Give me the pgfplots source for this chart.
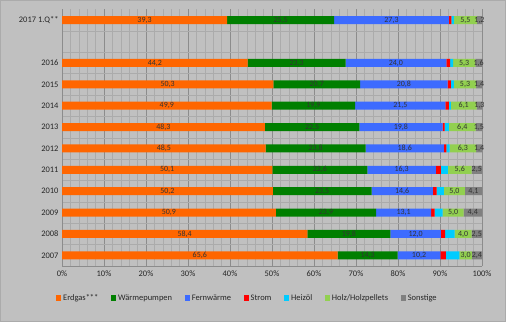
\documentclass[border=0pt]{standalone}
\usepackage{pgfplots}
\usepackage{pgfplotstable}
\pgfplotsset{compat=1.18}
\usepackage{fontspec}
\setmainfont{Carlito}
\definecolor{bg}{HTML}{C0C0C0}
\definecolor{cgas}{HTML}{FF6600}
\definecolor{cwp}{HTML}{007F00}
\definecolor{cfw}{HTML}{3D6BFF}
\definecolor{cstrom}{HTML}{FF0000}
\definecolor{coel}{HTML}{00CCFF}
\definecolor{cholz}{HTML}{92D050}
\definecolor{csonst}{HTML}{808080}
\definecolor{gmaj}{HTML}{8C8C8C}
\definecolor{gmin}{HTML}{ABABAB}
\pgfplotstableread{
y  gas  wp   fw   strom oel  holz  sonst
0  65.6 14.3 10.2 1.3   3.2  3.0   2.4
1  58.4 19.8 12.0 1.0   2.3  4.0   2.5
2  50.9 23.9 13.1 0.8   1.9  5.0   4.4
3  50.2 23.5 14.6 0.9   1.7  5.0   4.1
4  50.1 22.6 16.3 1.2   1.7  5.6   2.5
5  48.5 23.8 18.6 0.6   0.8  6.3   1.4
6  48.3 22.5 19.8 0.5   1.0  6.4   1.5
7  49.9 19.9 21.5 0.8   0.5  6.1   1.3
8  50.3 20.7 20.8 0.8   0.7  5.3   1.4
9  44.2 23.3 24.0 0.9   0.7  5.3   1.6
11 39.3 25.5 27.3 0.6   0.6  5.5   1.2
}\data
\pgfplotsset{
  common/.style={at={(62bp,56bp)}, anchor=south west,
    width=420bp, height=256.5bp, scale only axis,
    xmin=0, xmax=100, ymin=-0.5, ymax=11.5},
}
\begin{document}
\begin{tikzpicture}[x=1bp,y=1bp]
\fill[bg] (0,0) rectangle (506,322);
\draw[gmin,line width=0.8bp] (0.4,0.4) rectangle (505.6,321.6);
\begin{axis}[
  common,
  xbar stacked, bar width=8bp,
  ytick={0,1,2,3,4,5,6,7,8,9,11},
  yticklabels={2007,2008,2009,2010,2011,2012,2013,2014,2015,2016,2017 1.Q**},
  xtick={0,10,...,100},
  xticklabels={0\%,10\%,20\%,30\%,40\%,50\%,60\%,70\%,80\%,90\%,100\%},
  minor x tick num=4,
  minor ytick={0.5,1.5,...,10.5},
  xmajorgrids, xminorgrids, yminorgrids,
  major grid style={gmaj, line width=0.8bp},
  minor grid style={gmin, line width=0.5bp},
  axis x line*=bottom, axis y line*=left,
  axis line style={gmaj, line width=0.8bp},
  tick style={draw=none},
  ticklabel style={font=\fontsize{8.5}{10}\selectfont, text=black!85},
  xticklabel style={yshift=-1bp},
  axis background/.style={fill=bg},
  legend columns=7,
  legend style={at={(-0.022,-0.125)}, anchor=west, draw=none, fill=none,
    font=\fontsize{8.5}{10}\selectfont, text=black!85,
    /tikz/every even column/.append style={column sep=10.5bp}},
  legend image code/.code={\fill[#1] (0bp,-2.6bp) rectangle (5.2bp,2.6bp);},
]
\addplot[fill=cgas, draw=none] table[x=gas, y=y] {\data};
\addplot[fill=cwp, draw=none] table[x=wp, y=y] {\data};
\addplot[fill=cfw, draw=none] table[x=fw, y=y] {\data};
\addplot[fill=cstrom, draw=none] table[x=strom, y=y] {\data};
\addplot[fill=coel, draw=none] table[x=oel, y=y] {\data};
\addplot[fill=cholz, draw=none] table[x=holz, y=y] {\data};
\addplot[fill=csonst, draw=none] table[x=sonst, y=y] {\data};
\legend{Erdgas***, Wärmepumpen, Fernwärme, Strom, Heizöl, Holz/Holzpellets, Sonstige}
\end{axis}
\begin{axis}[
  common, hide axis,
  /pgf/number format/assume math mode=true,
  /pgf/number format/.cd, use comma, fixed, fixed zerofill, precision=1,
  /pgfplots/.cd,
  lbl/.style={draw=none, mark=none, only marks, nodes near coords, point meta=explicit,
    every node near coord/.append style={anchor=center, inner sep=0pt,
      font=\fontsize{8}{9}\selectfont, text=black!80}},
]
\addplot[lbl] table[x expr=\thisrow{gas}/2, y=y, meta=gas] {\data};
\addplot[lbl] table[x expr=\thisrow{gas}+\thisrow{wp}/2, y=y, meta=wp] {\data};
\addplot[lbl] table[x expr=\thisrow{gas}+\thisrow{wp}+\thisrow{fw}/2, y=y, meta=fw] {\data};
\addplot[lbl] table[x expr=100-\thisrow{sonst}-\thisrow{holz}/2, y=y, meta=holz] {\data};
\addplot[lbl] table[x expr=100-\thisrow{sonst}/2, y=y, meta=sonst] {\data};
\end{axis}
\end{tikzpicture}
\end{document}
